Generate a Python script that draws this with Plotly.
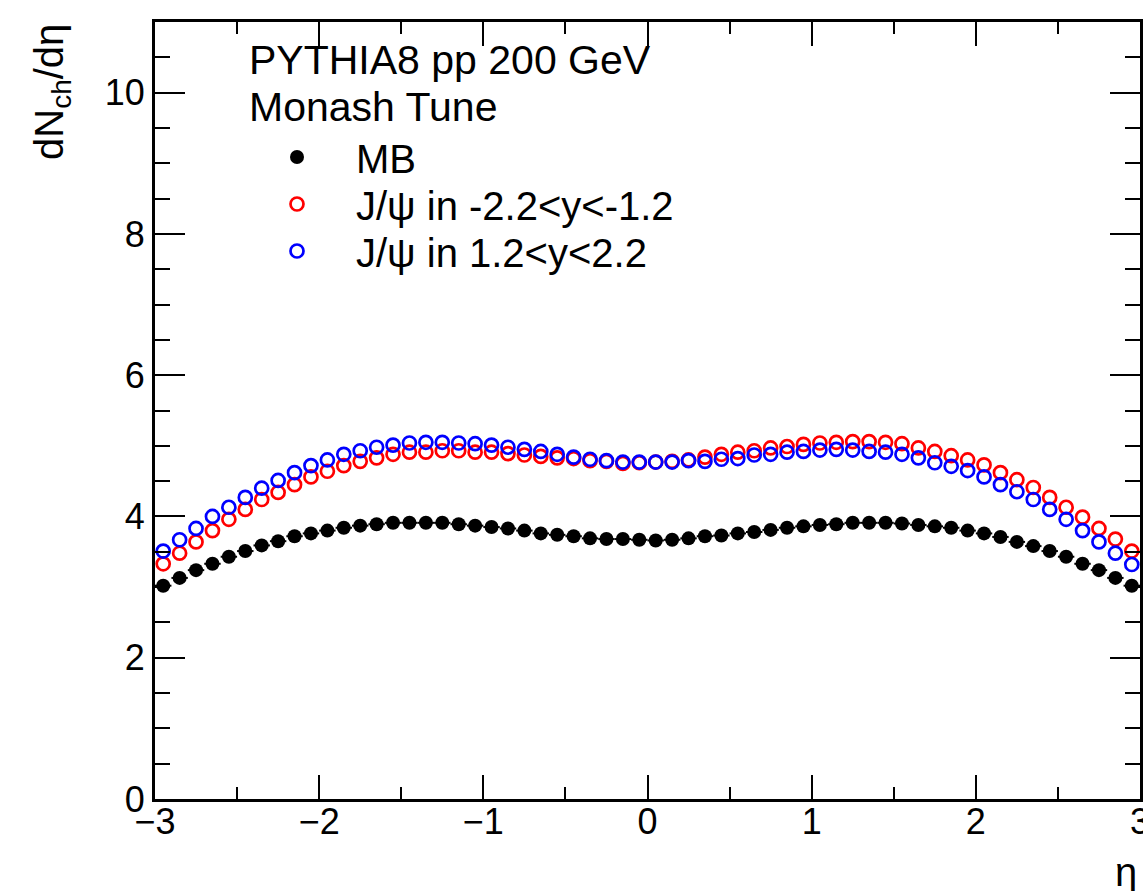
import plotly.graph_objects as go

# bin centres in eta (60 bins of width 0.1 from -3 to 3)
eta = [round(-2.95 + 0.1 * i, 2) for i in range(60)]
bin_half_width = [0.05] * 60

mb = [3.02, 3.13, 3.24, 3.33, 3.43, 3.51, 3.59, 3.65, 3.72, 3.76,
      3.80, 3.84, 3.87, 3.89, 3.91, 3.91, 3.91, 3.91, 3.89, 3.87,
      3.85, 3.83, 3.80, 3.76, 3.74, 3.72, 3.69, 3.68, 3.68, 3.67,
      3.66, 3.67, 3.69, 3.72, 3.73, 3.76, 3.78, 3.81, 3.84, 3.86,
      3.88, 3.89, 3.91, 3.91, 3.91, 3.90, 3.88, 3.86, 3.84, 3.80,
      3.76, 3.71, 3.64, 3.58, 3.51, 3.43, 3.33, 3.24, 3.13, 3.02]

jpsi_bwd = [3.33, 3.48, 3.64, 3.80, 3.96, 4.10, 4.24, 4.34, 4.45, 4.56,
            4.64, 4.72, 4.78, 4.83, 4.88, 4.91, 4.91, 4.93, 4.93, 4.91,
            4.91, 4.89, 4.87, 4.85, 4.83, 4.82, 4.79, 4.78, 4.75, 4.76,
            4.77, 4.78, 4.80, 4.84, 4.88, 4.91, 4.93, 4.97, 4.99, 5.02,
            5.04, 5.05, 5.06, 5.06, 5.05, 5.03, 4.97, 4.92, 4.86, 4.80,
            4.73, 4.62, 4.52, 4.41, 4.27, 4.13, 3.99, 3.83, 3.68, 3.51]

jpsi_fwd = [3.51, 3.67, 3.83, 4.00, 4.13, 4.27, 4.40, 4.51, 4.62, 4.72,
            4.80, 4.88, 4.93, 4.98, 5.01, 5.04, 5.05, 5.05, 5.04, 5.03,
            5.01, 4.98, 4.95, 4.92, 4.88, 4.84, 4.81, 4.79, 4.77, 4.77,
            4.77, 4.77, 4.79, 4.78, 4.81, 4.82, 4.87, 4.88, 4.91, 4.92,
            4.94, 4.95, 4.94, 4.92, 4.91, 4.88, 4.83, 4.76, 4.71, 4.65,
            4.56, 4.45, 4.35, 4.24, 4.10, 3.96, 3.80, 3.64, 3.48, 3.32]

names = ["MB", "J/\u03c8 in -2.2<y<-1.2", "J/\u03c8 in 1.2<y<2.2"]
header = ["PYTHIA8 pp 200 GeV", "Monash Tune"]
x_ticks = [-3, -2, -1, 0, 1, 2, 3]
y_ticks = [0, 2, 4, 6, 8, 10]

W, H = 1143, 891
L, R, T, B = 155, 3, 22, 92
PW, PH = W - L - R, H - T - B
FONT = "Liberation Sans, Arial, Helvetica, sans-serif"


def px(xp):
    # xp: pixel in the 1143x891 picture
    return (xp - L) / PW


def py(yp):
    return (H - B - yp) / PH


fig = go.Figure()
fig.add_trace(go.Scatter(
    x=eta, y=mb, mode="markers", name=names[0], legend="legend",
    marker=dict(symbol="circle", size=14, color="black", line=dict(width=0)),
    error_x=dict(type="data", array=bin_half_width, width=0, thickness=2, color="black"),
))
fig.add_trace(go.Scatter(
    x=eta, y=jpsi_bwd, mode="markers", name=names[1], legend="legend2",
    marker=dict(symbol="circle-open", size=13, color="#ff0000", line=dict(width=2.7, color="#ff0000")),
))
fig.add_trace(go.Scatter(
    x=eta, y=jpsi_fwd, mode="markers", name=names[2], legend="legend3",
    marker=dict(symbol="circle-open", size=13, color="#0000ff", line=dict(width=2.7, color="#0000ff")),
))

axis_common = dict(
    showline=True, linecolor="black", linewidth=3, mirror="ticks",
    ticks="inside", tickcolor="black", tickwidth=2,
    showgrid=False, zeroline=False, ticklabeloverflow="allow", automargin=False,
    tickfont=dict(family=FONT, size=36, color="black"),
)

fig.update_xaxes(
    range=[-3, 3], tickvals=x_ticks, ticklen=24, ticklabelstandoff=-11,
    minor=dict(ticks="inside", ticklen=12, tickwidth=2, tickcolor="black", dtick=0.5, showgrid=False),
    **axis_common,
)
fig.update_yaxes(
    range=[0, 11], tickvals=y_ticks, ticklen=30, ticklabelstandoff=0,
    minor=dict(ticks="inside", ticklen=15, tickwidth=2, tickcolor="black", dtick=0.5, showgrid=False),
    **axis_common,
)

annotations = [
    dict(text=header[0], x=px(247), y=py(60), xanchor="left", yanchor="middle", size=41),
    dict(text=header[1], x=px(247), y=py(107), xanchor="left", yanchor="middle", size=41),
    dict(text="dN<sub>ch</sub>/d\u03b7", x=px(52), y=py(22), xanchor="center", yanchor="top",
         textangle=-90, size=40),
    dict(text="\u03b7", x=px(1139), y=py(872), xanchor="right", yanchor="middle", size=40),
]
for a in annotations:
    s = a.pop("size")
    a.update(xref="paper", yref="paper", showarrow=False,
             font=dict(family=FONT, size=s, color="black"))

legend_rows = [157, 204, 251]
legend_style = dict(
    xanchor="left", yanchor="middle",
    bgcolor="rgba(0,0,0,0)", borderwidth=0,
    font=dict(family=FONT, size=40, color="black"),
    itemwidth=108,
)

fig.update_layout(
    width=W, height=H,
    margin=dict(l=L, r=R, t=T, b=B, pad=0, autoexpand=False),
    paper_bgcolor="white", plot_bgcolor="white",
    showlegend=True,
    legend=dict(x=px(238), y=py(legend_rows[0]), **legend_style),
    legend2=dict(x=px(238), y=py(legend_rows[1]), **legend_style),
    legend3=dict(x=px(238), y=py(legend_rows[2]), **legend_style),
    annotations=annotations,
)

fig.write_html(
    "out.html",
    config={"displayModeBar": False},
    post_script="document.body.style.margin='0';document.body.style.overflow='hidden';",
)
